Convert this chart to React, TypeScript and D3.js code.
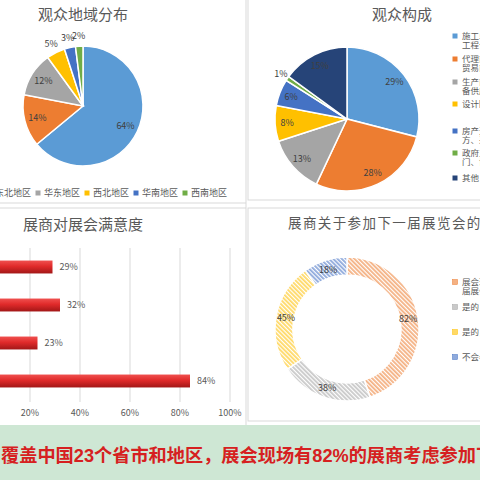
import React from "react";
import * as d3 from "d3";

// ---------- data ----------
const regionNames = ["华北地区", "东北地区", "华东地区", "西北地区", "华南地区", "西南地区"];
const regionValues = [64, 14, 12, 5, 3, 2];
const regionColors = ["#5b9bd5", "#ed7d31", "#a5a5a5", "#ffc000", "#4472c4", "#70ad47"];

const audienceNames = [
  ["施工单位、", "工程公司"],
  ["代理商、", "贸易商"],
  ["生产商、设", "备供应商"],
  ["设计院"],
  ["房产开发商、", "方、采购方"],
  ["政府主管部", "门、协会"],
  ["其他"],
];
const audienceValues = [29, 28, 13, 8, 6, 1, 15];
const audienceColors = ["#5b9bd5", "#ed7d31", "#a5a5a5", "#ffc000", "#4472c4", "#70ad47", "#264478"];

const satisfactionCats = ["非常满意", "满意", "一般", "整体评价"];
const satisfactionValues = [29, 32, 23, 84];
const xTicks = [0, 20, 40, 60, 80, 100];

const intentNames = [["展会现场考虑参加下", "届展会"], ["是的，一定参加"], ["是的，可能参加"], ["不会参加"]];
const intentValues = [82, 38, 45, 18];
const intentColors = ["#f4b183", "#c9c9c9", "#ffd966", "#8faadc"];
const intentStroke = ["#ed7d31", "#a5a5a5", "#ffc000", "#4472c4"];

const bannerParts = [
  { t: "覆盖中国", num: false },
  { t: "23", num: true },
  { t: "个省市和地区，展会现场有", num: false },
  { t: "82%", num: true },
  { t: "的展商考虑参加下一届展会", num: false },
];

const CJK = "'Noto Sans CJK SC', sans-serif";
const LAB = "#404040";
const GRID = "#d9d9d9";

function pct(v: number) {
  return `${v}%`;
}

export default function App() {
  // top-left pie
  const pie = d3.pie<number>().sort(null).value((d) => d);
  const p1 = pie(regionValues);
  const r1 = 60;
  const arc1 = d3.arc<d3.PieArcDatum<number>>().innerRadius(0).outerRadius(r1);
  const lab = (a: d3.PieArcDatum<number>, rl: number) => {
    const m = (a.startAngle + a.endAngle) / 2;
    return [Math.sin(m) * rl, -Math.cos(m) * rl];
  };

  // top-right pie
  const p2 = pie(audienceValues);
  const r2 = 72;
  const arc2 = d3.arc<d3.PieArcDatum<number>>().innerRadius(0).outerRadius(r2);

  // bar chart
  const x = d3.scaleLinear().domain([0, 100]).range([-20, 230]);
  const y = d3
    .scaleBand<string>()
    .domain(satisfactionCats)
    .range([248, 400])
    .paddingInner(0.66)
    .paddingOuter(0.33);

  // donut
  const p3 = pie(intentValues);
  const arc3 = d3.arc<d3.PieArcDatum<number>>().innerRadius(54).outerRadius(72);

  return (
    <svg
      width={480}
      height={480}
      style={{ position: "absolute", left: 0, top: 0, background: "#fff" }}
      fontFamily={CJK}
    >
      <defs>
        <linearGradient id="barGrad" x1="0" y1="0" x2="0" y2="1">
          <stop offset="0" stopColor="#f0504f" />
          <stop offset="0.45" stopColor="#e02a2a" />
          <stop offset="1" stopColor="#a21717" />
        </linearGradient>
        {intentColors.map((c, i) => (
          <pattern
            key={i}
            id={`hatch${i}`}
            width={3}
            height={3}
            patternUnits="userSpaceOnUse"
            patternTransform="rotate(-45)"
          >
            <rect width={3} height={3} fill="#ffffff" />
            <rect width={1.8} height={3} fill={c} />
          </pattern>
        ))}
      </defs>

      {/* panel frames */}
      <line x1={0} x2={246} y1={203} y2={203} stroke={GRID} />
      <line x1={0} x2={246} y1={208} y2={208} stroke={GRID} />
      <line x1={246} x2={246} y1={0} y2={425} stroke={GRID} />
      <rect x={248} y={-1} width={240} height={201} fill="none" stroke={GRID} />
      <rect x={248} y={208} width={240} height={213} fill="none" stroke={GRID} />

      {/* ---------- top-left: 观众地域分布 ---------- */}
      <text x={83} y={20} textAnchor="middle" fontSize={15} fill="#595959">
        观众地域分布
      </text>
      <g transform="translate(83,106)">
        {p1.map((a, i) => (
          <path key={i} d={arc1(a) || ""} fill={regionColors[i]} stroke="#fff" strokeWidth={1.5} />
        ))}
        {p1.map((a, i) => {
          const [lx, ly] = lab(a, regionValues[i] <= 5 ? 70 : 47);
          return (
            <text key={i} x={lx} y={ly} dy="0.35em" textAnchor="middle" fontSize={9} fill={LAB}>
              {pct(regionValues[i])}
            </text>
          );
        })}
      </g>
      <g transform="translate(0,193)">
        {regionNames.map((n, i) => {
          const mx = -60 + i * 49;
          return (
            <g key={i}>
              <rect x={mx - 2.5} y={-2.5} width={5} height={5} fill={regionColors[i]} />
              <text x={mx + 6} y={0} dy="0.35em" fontSize={9} fill="#595959">
                {n}
              </text>
            </g>
          );
        })}
      </g>

      {/* ---------- top-right: 观众构成 ---------- */}
      <text x={402} y={20} textAnchor="middle" fontSize={15} fill="#595959">
        观众构成
      </text>
      <g transform="translate(347,119)">
        {p2.map((a, i) => (
          <path key={i} d={arc2(a) || ""} fill={audienceColors[i]} stroke="#fff" strokeWidth={1.5} />
        ))}
        {p2.map((a, i) => {
          const [lx, ly] = lab(a, audienceValues[i] <= 2 ? 80 : 60);
          return (
            <text key={i} x={lx} y={ly} dy="0.35em" textAnchor="middle" fontSize={9} fill={LAB}>
              {pct(audienceValues[i])}
            </text>
          );
        })}
      </g>
      {(() => {
        const rowsY = [36, 59, 82, 104, 131, 153, 178];
        return audienceNames.map((lines, i) => (
          <g key={i}>
            <rect x={452.5} y={rowsY[i] - 2.5} width={5} height={5} fill={audienceColors[i]} />
            {lines.map((l, j) => (
              <text key={j} x={462} y={rowsY[i] + j * 9.5} dy="0.35em" fontSize={8.5} fill="#595959">
                {l}
              </text>
            ))}
          </g>
        ));
      })()}

      {/* ---------- bottom-left: 展商对展会满意度 ---------- */}
      <text x={83} y={230} textAnchor="middle" fontSize={15} fill="#595959">
        展商对展会满意度
      </text>
      {xTicks.map((t) => (
        <g key={t}>
          <line x1={x(t)} x2={x(t)} y1={248} y2={402} stroke={GRID} />
          <text x={x(t)} y={413} dy="0.35em" textAnchor="middle" fontSize={9} fill="#595959">
            {pct(t)}
          </text>
        </g>
      ))}
      {satisfactionCats.map((c, i) => {
        const y0 = y(c) || 0;
        const bw = y.bandwidth();
        return (
          <g key={c}>
            <rect x={x(0)} y={y0} width={x(satisfactionValues[i]) - x(0)} height={bw} fill="url(#barGrad)" />
            <text x={x(satisfactionValues[i]) + 7} y={y0 + bw / 2} dy="0.35em" fontSize={9} fill="#595959">
              {pct(satisfactionValues[i])}
            </text>
          </g>
        );
      })}

      {/* ---------- bottom-right: donut ---------- */}
      <text x={288} y={228} fontSize={13.5} fill="#595959" letterSpacing={1.4}>
        展商关于参加下一届展览会的意向
      </text>
      <g transform="translate(347,329)">
        {p3.map((a, i) => (
          <path key={i} d={arc3(a) || ""} fill={`url(#hatch${i})`} stroke="#fff" strokeWidth={1.5} />
        ))}
        {p3.map((a, i) => {
          const [lx, ly] = lab(a, 62);
          return (
            <text key={i} x={lx} y={ly} dy="0.35em" textAnchor="middle" fontSize={9} fill={LAB}>
              {pct(intentValues[i])}
            </text>
          );
        })}
      </g>
      {(() => {
        const rowsY = [282, 307, 332, 357];
        return intentNames.map((lines, i) => (
          <g key={i}>
            <rect x={452.5} y={rowsY[i] - 2.5} width={5} height={5} fill={intentColors[i]} stroke={intentStroke[i]} strokeWidth={0.5} />
            {lines.map((l, j) => (
              <text key={j} x={462} y={rowsY[i] + j * 9.5} dy="0.35em" fontSize={8.5} fill="#595959">
                {l}
              </text>
            ))}
          </g>
        ));
      })()}

      {/* ---------- bottom banner ---------- */}
      <rect x={0} y={425} width={480} height={55} fill="#cee7d4" />
      <text x={1} y={456} dy="0.35em" fontSize={18.2} fontWeight="bold" fill="#d62020">
        {bannerParts.map((p, i) => (
          <tspan key={i} fontFamily={p.num ? "'Liberation Sans', Arial, sans-serif" : CJK}>
            {p.t}
          </tspan>
        ))}
      </text>
    </svg>
  );
}
